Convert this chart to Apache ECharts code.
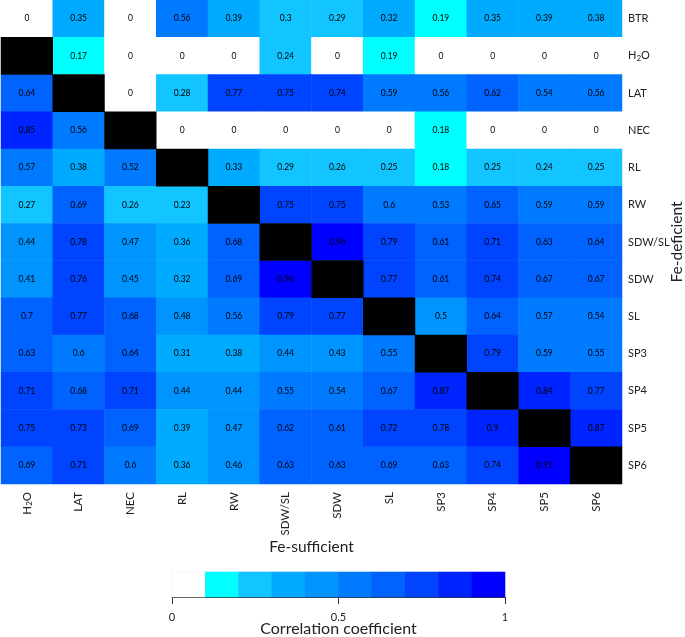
<!DOCTYPE html>
<html>
<head>
<meta charset="utf-8">
<script src="https://cdn.jsdelivr.net/npm/echarts@6/dist/echarts.min.js"></script>
<style>
  html, body { margin: 0; padding: 0; background: #fff; }
  #chart { width: 685px; height: 637px; }
</style>
</head>
<body>
<div id="chart"></div>
<script>
// columns (Fe-sufficient) and rows (Fe-deficient)
const xCats = ['H2O', 'LAT', 'NEC', 'RL', 'RW', 'SDW/SL', 'SDW', 'SL', 'SP3', 'SP4', 'SP5', 'SP6'];
const yCats = ['BTR', 'H2O', 'LAT', 'NEC', 'RL', 'RW', 'SDW/SL', 'SDW', 'SL', 'SP3', 'SP4', 'SP5', 'SP6'];

// correlation values, one array per row, null = same trait (black)
const rowBTR   = [0, 0.35, 0, 0.56, 0.39, 0.3, 0.29, 0.32, 0.19, 0.35, 0.39, 0.38];
const rowH2O   = [null, 0.17, 0, 0, 0, 0.24, 0, 0.19, 0, 0, 0, 0];
const rowLAT   = [0.64, null, 0, 0.28, 0.77, 0.75, 0.74, 0.59, 0.56, 0.62, 0.54, 0.56];
const rowNEC   = [0.85, 0.56, null, 0, 0, 0, 0, 0, 0.18, 0, 0, 0];
const rowRL    = [0.57, 0.38, 0.52, null, 0.33, 0.29, 0.26, 0.25, 0.18, 0.25, 0.24, 0.25];
const rowRW    = [0.27, 0.69, 0.26, 0.23, null, 0.75, 0.75, 0.6, 0.53, 0.65, 0.59, 0.59];
const rowSDWSL = [0.44, 0.78, 0.47, 0.36, 0.68, null, 0.96, 0.79, 0.61, 0.71, 0.63, 0.64];
const rowSDW   = [0.41, 0.76, 0.45, 0.32, 0.69, 0.96, null, 0.77, 0.61, 0.74, 0.67, 0.67];
const rowSL    = [0.7, 0.77, 0.68, 0.48, 0.56, 0.79, 0.77, null, 0.5, 0.64, 0.57, 0.54];
const rowSP3   = [0.63, 0.6, 0.64, 0.31, 0.38, 0.44, 0.43, 0.55, null, 0.79, 0.59, 0.55];
const rowSP4   = [0.71, 0.68, 0.71, 0.44, 0.44, 0.55, 0.54, 0.67, 0.87, null, 0.84, 0.77];
const rowSP5   = [0.75, 0.73, 0.69, 0.39, 0.47, 0.62, 0.61, 0.72, 0.78, 0.9, null, 0.87];
const rowSP6   = [0.69, 0.71, 0.6, 0.36, 0.46, 0.63, 0.63, 0.69, 0.63, 0.74, 0.91, null];
const rows = [rowBTR, rowH2O, rowLAT, rowNEC, rowRL, rowRW, rowSDWSL, rowSDW, rowSL, rowSP3, rowSP4, rowSP5, rowSP6];

// colour bar
const binEdges = [0, 0.1, 0.2, 0.3, 0.4, 0.5, 0.6, 0.7, 0.8, 0.9, 1];
const binColors = ['#ffffff', '#00ffff', '#12c4ff', '#00aaff', '#0094ff', '#007aff', '#0062ff', '#0044ff', '#0024ff', '#0000ff'];
const binCenters = [0.05, 0.15, 0.25, 0.35, 0.45, 0.55, 0.65, 0.75, 0.85, 0.95];

const cells = [];
const diag = [];
rows.forEach((r, yi) => {
  r.forEach((v, xi) => {
    if (v === null) diag.push([xi, yi, 1]);
    else cells.push([xi, yi, v]);
  });
});

const pieces = binColors.map((c, i) => ({ gt: binEdges[i], lte: binEdges[i + 1], color: c }));
pieces[0] = { lte: binEdges[1], color: binColors[0] };

const font = 'Lato';
const labelFmt = v => v === 'H2O' ? '{a|H}{s|2}{a|O}' : '{a|' + v + '}';
const labelRich = {
  a: { fontSize: 11.5, color: '#222', fontFamily: font },
  s: { fontSize: 8, color: '#222', fontFamily: font, padding: [6, 0, 0, 0] }
};
const yRich = {
  a: { fontSize: 11, color: '#222', fontFamily: font },
  s: { fontSize: 8, color: '#222', fontFamily: font, padding: [6, 0, 0, 0] }
};

const chart = echarts.init(document.getElementById('chart'), null, { renderer: 'canvas' });
chart.setOption({
  animation: false,
  textStyle: { fontFamily: font },
  grid: [
    { left: 1, top: 0, width: 621, height: 484, outerBoundsMode: 'none', containLabel: false },
    { left: 172, top: 572, width: 333, height: 25, outerBoundsMode: 'none', containLabel: false,
      show: true, borderColor: '#ccd', borderWidth: 0.5, backgroundColor: 'transparent' }
  ],
  xAxis: [
    {
      type: 'category', gridIndex: 0, data: xCats, position: 'bottom',
      axisLine: { show: false }, axisTick: { show: false }, splitLine: { show: false },
      axisLabel: { rotate: 90, margin: 8, formatter: labelFmt, rich: labelRich },
      name: 'Fe-sufficient', nameLocation: 'middle', nameGap: 55, nameMoveOverlap: false,
      nameTextStyle: { fontSize: 15.5, color: '#222', fontFamily: font }
    },
    { type: 'category', gridIndex: 1, data: binCenters, show: false, position: 'top' },
    {
      type: 'value', gridIndex: 1, min: 0, max: 1, interval: 0.5, position: 'bottom',
      axisLine: { show: true, onZero: false, lineStyle: { color: '#333', width: 1 } },
      axisTick: { show: true, length: 7, lineStyle: { color: '#333' } },
      splitLine: { show: false },
      axisLabel: { margin: 15, fontSize: 11, color: '#222', fontFamily: font },
      name: 'Correlation coefficient', nameLocation: 'middle', nameGap: 24, nameMoveOverlap: false,
      nameTextStyle: { fontSize: 16, color: '#222', fontFamily: font }
    }
  ],
  yAxis: [
    {
      type: 'category', gridIndex: 0, data: yCats, inverse: true, position: 'right',
      axisLine: { show: false }, axisTick: { show: false }, splitLine: { show: false },
      axisLabel: { margin: 6, formatter: labelFmt, rich: yRich },
      name: 'Fe-deficient', nameLocation: 'middle', nameRotate: 90, nameGap: 47, nameMoveOverlap: false,
      nameTextStyle: { fontSize: 15.5, color: '#222', fontFamily: font }
    },
    { type: 'category', gridIndex: 1, data: ['bar'], show: false }
  ],
  visualMap: {
    type: 'piecewise', show: false, dimension: 2, seriesIndex: [0, 2],
    pieces: pieces
  },
  series: [
    {
      type: 'heatmap', xAxisIndex: 0, yAxisIndex: 0, data: cells,
      label: {
        show: true, fontSize: 8.5, color: '#000', fontFamily: font,
        formatter: p => String(p.value[2])
      }
    },
    {
      type: 'heatmap', xAxisIndex: 0, yAxisIndex: 0, data: diag,
      itemStyle: { color: '#000' }
    },
    {
      type: 'heatmap', xAxisIndex: 1, yAxisIndex: 1,
      data: binCenters.map((v, i) => [i, 0, v])
    }
  ]
});
</script>
</body>
</html>
